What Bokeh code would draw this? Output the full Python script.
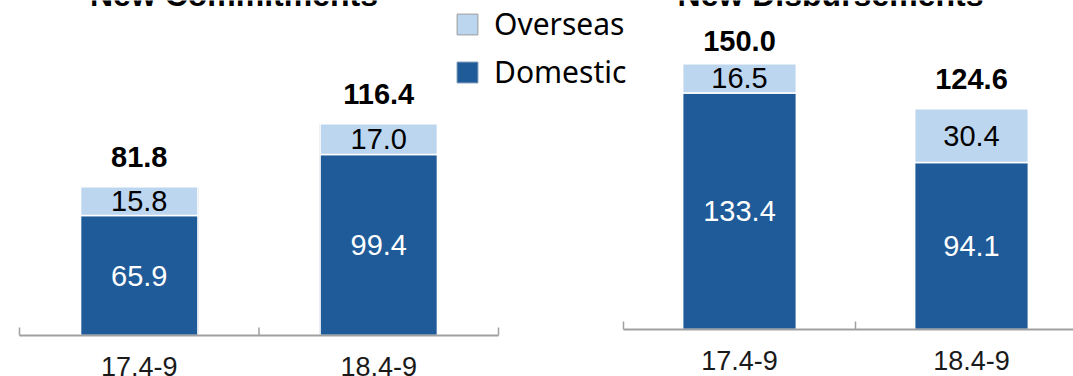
import numpy as np
from bokeh.plotting import figure
from bokeh.models import Range1d, ColumnDataSource, Legend, LegendItem
from bokeh.core.properties import value
from bokeh.embed import file_html
from bokeh.resources import INLINE

# ---------------- data ----------------
categories = ["17.4-9", "18.4-9"]
titles = ["New Commitments", "New Disbursements"]
commit_domestic = [65.9, 99.4]
commit_overseas = [15.8, 17.0]
commit_total = [81.8, 116.4]
disb_domestic = [133.4, 94.1]
disb_overseas = [16.5, 30.4]
disb_total = [150.0, 124.6]
series_names = ["Overseas", "Domestic"]

# ---------------- style / layout ----------------
W, H = 1073, 376
C_DOM = "#1f5b98"
C_OVS = "#bcd6ef"
AXIS_C = "#a0a0a0"
FONT = "Liberation Sans"

p = figure(width=W, height=H, output_backend="svg", toolbar_location=None,
           x_range=Range1d(0, 1), y_range=Range1d(0, 1), min_border=0,
           x_axis_location=None, y_axis_location=None)
p.grid.visible = False
p.outline_line_color = None


def xr(left_px, unit_px):
    return Range1d(-left_px / unit_px, (W - left_px) / unit_px)


def yr(base_px, px_per_unit):
    return Range1d(-(H - base_px) / px_per_unit, base_px / px_per_unit)


panels = [
    dict(name="L", left=19, unit=239.5, base=335, k=1.82,
         dom=commit_domestic, ovs=commit_overseas, tot=commit_total,
         gap=[30, 30], title=titles[0]),
    dict(name="R", left=623, unit=232, base=329, k=1.7735,
         dom=disb_domestic, ovs=disb_overseas, tot=disb_total,
         gap=[23, 30], title=titles[1]),
]

p.extra_x_ranges = {pn["name"]: xr(pn["left"], pn["unit"]) for pn in panels}
p.extra_y_ranges = {pn["name"]: yr(pn["base"], pn["k"]) for pn in panels}

legend_proxies = None
for pn in panels:
    nm = pn["name"]
    n = len(categories)
    centers = np.arange(n) + 0.5
    dom = np.array(pn["dom"])
    ovs = np.array(pn["ovs"])
    src = ColumnDataSource(dict(
        x=centers, cat=categories, dom=dom, ovs=ovs,
        dom_mid=dom / 2, ovs_mid=dom + ovs / 2,
        dom_lbl=[f"{v:.1f}" for v in dom], ovs_lbl=[f"{v:.1f}" for v in ovs],
        top=dom + ovs, tot=pn["tot"], tot_lbl=[f"{v:.1f}" for v in pn["tot"]],
        gap=[-g for g in pn["gap"]],
    ))
    kw = dict(x_range_name=nm, y_range_name=nm, source=src)
    if legend_proxies is None:
        # same geometry, drawn underneath: used only for legend swatches
        r_dom = p.vbar(x="x", bottom=0, top="dom", width=0.49, fill_color=C_DOM,
                       line_color="#6f8fb3", line_width=1, **kw)
        r_ovs = p.vbar(x="x", bottom="dom", top="top", width=0.49, fill_color=C_OVS,
                       line_color="#9a9a9a", line_width=1, **kw)
        legend_proxies = (r_ovs, r_dom)
    p.vbar_stack(["dom", "ovs"], x="x", width=0.49, color=[C_DOM, C_OVS],
                 line_color="white", line_width=1.5, **kw)
    # axis line and boundary ticks
    p.segment(x0=0, y0=0, x1=n, y1=0, line_color=AXIS_C, line_width=2,
              x_range_name=nm, y_range_name=nm)
    p.ray(x=list(np.arange(n + 1)), y=0, length=8, length_units="screen",
          angle=np.pi / 2, line_color=AXIS_C, line_width=1.5,
          x_range_name=nm, y_range_name=nm)
    # labels
    p.text(x="x", y="dom_mid", text="dom_lbl", text_color="white",
           text_font=value(FONT), text_font_size="29px", text_align="center",
           text_baseline="middle", **kw)
    p.text(x="x", y="ovs_mid", text="ovs_lbl", text_color="black",
           text_font=value(FONT), text_font_size="29px", text_align="center",
           text_baseline="middle", **kw)
    p.text(x="x", y="top", text="tot_lbl", text_color="black", y_offset="gap",
           text_font=value(FONT), text_font_size="29px", text_font_style="bold",
           text_align="center", text_baseline="alphabetic", **kw)
    p.text(x="x", y=0, text="cat", text_color="#1a1a1a", y_offset=21,
           text_font=value(FONT), text_font_size="27px", text_align="center",
           text_baseline="top", **kw)
    # title (cut at top)
    p.text(x=[n / 2], y=[p.extra_y_ranges[nm].end], text=[pn["title"]],
           x_offset=-25, y_offset=-6, text_color="black", text_font=value(FONT),
           text_font_size="32px", text_font_style="bold", text_align="center",
           text_baseline="alphabetic", x_range_name=nm, y_range_name=nm)

r_ovs, r_dom = legend_proxies
legend = Legend(items=[LegendItem(label=series_names[0], renderers=[r_ovs]),
                       LegendItem(label=series_names[1], renderers=[r_dom])],
                location=(454, 284), padding=0, margin=0, spacing=7,
                glyph_width=26, glyph_height=26, label_height=26,
                label_standoff=14, label_text_font="Noto Sans",
                label_text_font_size="30px", label_text_color="black",
                background_fill_alpha=0, border_line_color=None)
p.add_layout(legend, "center")

open("out.html", "w").write(file_html(p, INLINE))
